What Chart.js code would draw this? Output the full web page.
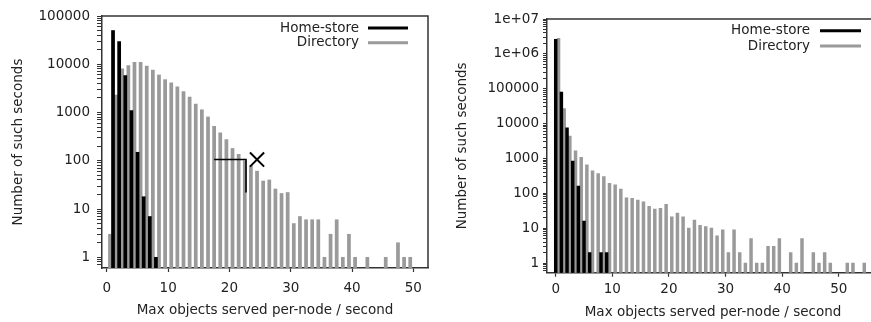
<!DOCTYPE html>
<html>
<head>
<meta charset="utf-8">
<script src="https://cdn.jsdelivr.net/npm/chart.js@4.4.1/dist/chart.umd.min.js"></script>
<style>
html,body{margin:0;padding:0;background:#fff;overflow:hidden;width:871px;height:322px;}
#wrapL{position:absolute;left:0;top:0;width:440px;height:322px;}
#wrapR{position:absolute;left:440px;top:0;width:450px;height:322px;}
canvas{display:block;}
</style>
</head>
<body>
<div id="wrapL"><canvas id="cL" width="440" height="322" style="width:440px;height:322px"></canvas></div>
<div id="wrapR"><canvas id="cR" width="450" height="322" style="width:450px;height:322px"></canvas></div>
<script>
// ---------------- DATA ----------------
const seriesNames = ['Home-store', 'Directory'];
const xTitle = 'Max objects served per-node / second';
const yTitle = 'Number of such seconds';

// Left panel
const leftCategories = [0,1,2,3,4,5,6,7,8,9,10,11,12,13,14,15,16,17,18,19,20,21,22,23,24,25,26,27,28,29,30,31,32,33,34,35,36,37,38,39,40,41,42,43,44,45,46,47,48,49];
const leftHomeStore = [null,50000,29500,5800,1100,150,18,7,1];
const leftDirectory = [3,2300,8000,9400,11000,11000,9200,7600,6000,4800,
  4100,3400,2700,2100,1500,1140,810,520,380,275,
  180,136,100,78,61,38,40,26,21,22,
  5,7,6,6,6,1,3,6,1,3,
  1,null,1,null,null,1,null,2,1,1];
const leftXTicks = [0,10,20,30,40,50];
const leftYTicks = [1,10,100,1000,10000,100000];
const leftYTickLabels = ['1','10','100','1000','10000','100000'];
// annotation in the left panel (bracket line and cross marker)
const markLineX = [17.5, 22.7, 22.7];
const markLineY = [106, 106, 22];
const crossX = [24.5];
const crossY = [106];

// Right panel
const rightCategories = [0,1,2,3,4,5,6,7,8,9,10,11,12,13,14,15,16,17,18,19,20,21,22,23,24,25,26,27,28,29,30,31,32,33,34,35,36,37,38,39,40,41,42,43,44,45,46,47,48,49,50,51,52,53,54];
const rightHomeStore = [2600000,80000,7500,840,160,16,2,null,2,2];
const rightDirectory = [2800000,27000,4400,1650,1080,650,440,370,300,192,
  175,131,74,72,64,57,42,35,37,48,
  21,27,21,10,17,12,11,10,6,9,
  2,9,2,1,5,1,1,3,3,5,
  null,2,1,5,null,2,1,2,1,null,
  null,1,1,null,1];
const rightXTicks = [0,10,20,30,40,50];
const rightYTicks = [1,10,100,1000,10000,100000,1000000,10000000];
const rightYTickLabels = ['1','10','100','1000','10000','100000','1e+06','1e+07'];

// ---------------- STYLE ----------------
Chart.defaults.font.family = "'DejaVu Sans', sans-serif";
Chart.defaults.font.size = 13.5;
Chart.defaults.color = '#222';
const HOME_COLOR = '#000000';
const DIR_COLOR = '#9a9a9a';
const AXIS_COLOR = '#333333';

function points(cats, vals, shift) {
  const out = [];
  cats.forEach((c, i) => {
    const v = vals[i];
    if (v !== undefined && v !== null) out.push({x: c + shift, y: v});
  });
  return out;
}
function pairs(xs, ys) { return xs.map((x, i) => ({x: x, y: ys[i]})); }

function logTicks(majors, min, max) {
  const t = [];
  majors.forEach(m => t.push({value: m}));
  const lo = Math.floor(Math.log10(min)), hi = Math.ceil(Math.log10(max));
  for (let e = lo; e < hi; e++) {
    for (let k = 2; k <= 9; k++) {
      const v = k * Math.pow(10, e);
      if (v > min && v < max) t.push({value: v});
    }
  }
  t.sort((a, b) => a.value - b.value);
  return t;
}

const framePlugin = {
  id: 'gpFrame',
  afterDraw(chart) {
    const {ctx, chartArea: a} = chart;
    ctx.save();
    ctx.strokeStyle = AXIS_COLOR;
    ctx.lineWidth = 1.5;
    ctx.beginPath();
    ctx.moveTo(a.left, a.top);
    ctx.lineTo(a.right, a.top);
    ctx.lineTo(a.right, a.bottom);
    ctx.stroke();
    ctx.restore();
  }
};

const legendPlugin = {
  id: 'gpLegend',
  afterDatasetsDraw(chart, args, opts) {
    const {ctx, chartArea: a} = chart;
    ctx.save();
    ctx.font = "13.5px 'DejaVu Sans', sans-serif";
    ctx.textAlign = 'right';
    ctx.textBaseline = 'middle';
    let row = 0;
    chart.data.datasets.forEach(ds => {
      if (!ds.inLegend) return;
      const y = a.top + opts.top + row * opts.rowGap;
      ctx.fillStyle = '#222';
      ctx.fillText(ds.label, a.right - opts.textRight, y);
      ctx.strokeStyle = ds.backgroundColor;
      ctx.lineWidth = 3;
      ctx.beginPath();
      ctx.moveTo(a.right - opts.lineStart, y);
      ctx.lineTo(a.right - opts.lineEnd, y);
      ctx.stroke();
      row++;
    });
    ctx.restore();
  }
};

function makeChart(id, p) {
  const datasets = [
    {type: 'bar', label: seriesNames[0], data: points(p.cats, p.home, 0), backgroundColor: HOME_COLOR, borderWidth: 0, inLegend: true, order: 2},
    {type: 'bar', label: seriesNames[1], data: points(p.cats, p.dir, 0.5), backgroundColor: DIR_COLOR, borderWidth: 0, inLegend: true, order: 3}
  ].concat(p.extra || []);
  return new Chart(document.getElementById(id), {
    data: {datasets},
    options: {
      responsive: false,
      animation: false,
      events: [],
      layout: {padding: {left: 0, top: p.padTop, right: p.padRight, bottom: 0}},
      datasets: {bar: {grouped: false, categoryPercentage: 1, barPercentage: 1}},
      plugins: {
        legend: {display: false},
        tooltip: {enabled: false},
        gpLegend: p.legend
      },
      scales: {
        x: {
          type: 'linear', min: p.xMin, max: p.xMax, offset: false,
          afterBuildTicks: s => { s.ticks = p.xTicks.map(v => ({value: v})); },
          afterFit: s => { s.height = p.xAxisHeight; },
          ticks: {autoSkip: false, maxRotation: 0, padding: p.xTickPad, color: '#222', callback: v => String(v)},
          grid: {display: true, offset: false, drawOnChartArea: false, drawTicks: true, tickLength: 4, tickColor: AXIS_COLOR, tickWidth: 1.2},
          border: {display: true, color: AXIS_COLOR, width: 1.5},
          title: {display: true, text: xTitle, color: '#222', padding: {top: 0, bottom: p.xTitlePad}}
        },
        y: {
          type: 'logarithmic', min: p.yMin, max: p.yMax,
          afterBuildTicks: s => { s.ticks = logTicks(p.yTicks, p.yMin, p.yMax); },
          afterFit: s => { s.width = p.yAxisWidth; },
          ticks: {autoSkip: false, padding: p.yTickPad, color: '#222',
            callback: v => { const i = p.yTicks.indexOf(v); return i >= 0 ? p.yLabels[i] : ''; }},
          grid: {display: true, drawOnChartArea: false, drawTicks: true, tickLength: p.yTickLen, tickColor: AXIS_COLOR, tickWidth: 1},
          border: {display: true, color: AXIS_COLOR, width: 1.5},
          title: {display: true, text: yTitle, color: '#222', padding: {top: p.yTitlePad, bottom: 0}}
        }
      }
    },
    plugins: [framePlugin, legendPlugin]
  });
}

makeChart('cL', {
  cats: leftCategories, home: leftHomeStore, dir: leftDirectory,
  xMin: -0.8, xMax: 52.4, yMin: 0.621, yMax: 100000,
  xTicks: leftXTicks, yTicks: leftYTicks, yLabels: leftYTickLabels,
  padTop: 16, padRight: 7, xAxisHeight: 54, yAxisWidth: 102,
  xTickPad: 8, xTitlePad: 3, yTickPad: 7, yTickLen: 5, yTitlePad: 10,
  legend: {top: 12, rowGap: 14.7, textRight: 69, lineStart: 60, lineEnd: 20},
  extra: [
    {type: 'line', label: 'bracket', data: pairs(markLineX, markLineY), borderColor: '#000', borderWidth: 1.6, pointRadius: 0, tension: 0, fill: false, order: 0},
    {type: 'line', label: 'cross', data: pairs(crossX, crossY), showLine: false, borderColor: '#000', backgroundColor: '#000', borderWidth: 2, pointStyle: 'crossRot', pointRadius: 10, order: 0}
  ]
});

makeChart('cR', {
  cats: rightCategories, home: rightHomeStore, dir: rightDirectory,
  xMin: -1.54, xMax: 57.1, yMin: 0.527, yMax: 10000000,
  xTicks: rightXTicks, yTicks: rightYTicks, yLabels: rightYTickLabels,
  padTop: 19, padRight: 11, xAxisHeight: 49.3, yAxisWidth: 107,
  xTickPad: 5, xTitlePad: 1, yTickPad: 4, yTickLen: 4, yTitlePad: 14,
  legend: {top: 11.7, rowGap: 15.3, textRight: 69, lineStart: 59, lineEnd: 18}
});
</script>
</body>
</html>
